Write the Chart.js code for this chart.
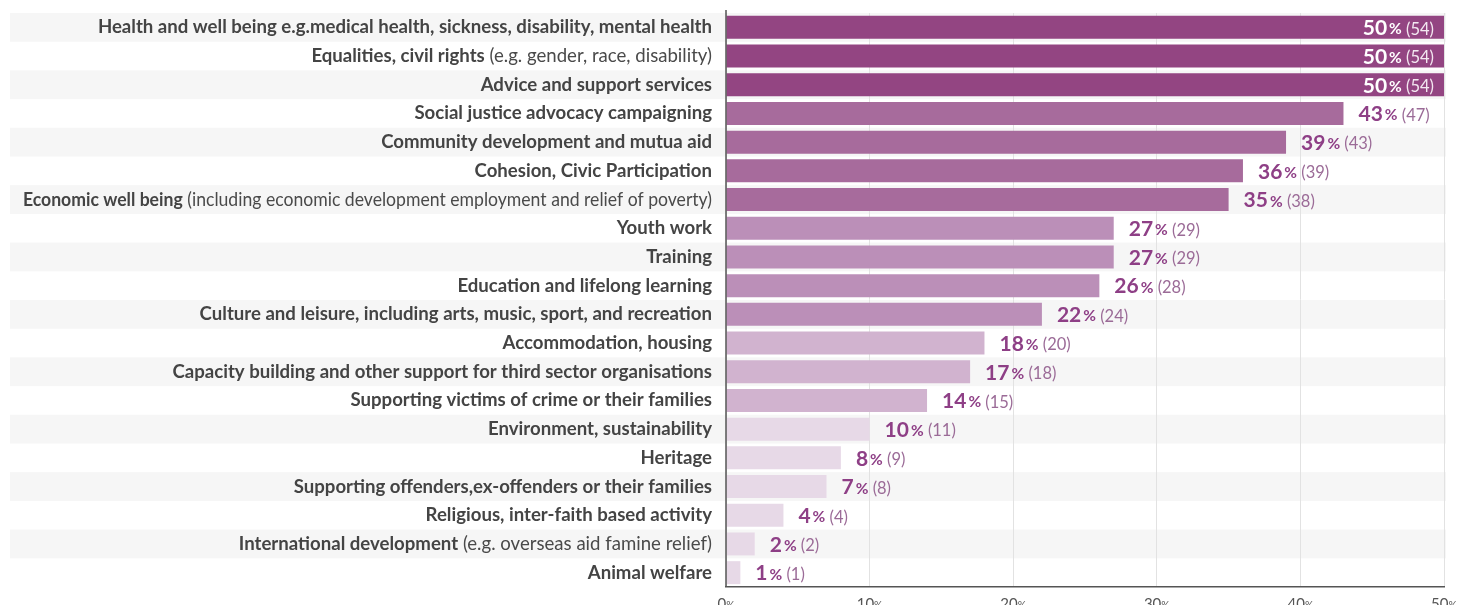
<!DOCTYPE html>
<html><head><meta charset="utf-8">
<script src="https://cdn.jsdelivr.net/npm/chart.js@4"></script>
<style>html,body{margin:0;padding:0;background:#fff;overflow:hidden}#wrap{width:1459px;height:605px;position:relative}</style>
</head><body><div id="wrap"><canvas id="c"></canvas></div>
<script>
const labelBold = [
  "Health and well being e.g.medical health, sickness, disability, mental health",
  "Equalities, civil rights",
  "Advice and support services",
  "Social justice advocacy campaigning",
  "Community development and mutua aid",
  "Cohesion, Civic Participation",
  "Economic well being",
  "Youth work",
  "Training",
  "Education and lifelong learning",
  "Culture and leisure, including arts, music, sport, and recreation",
  "Accommodation, housing",
  "Capacity building and other support for third sector organisations",
  "Supporting victims of crime or their families",
  "Environment, sustainability",
  "Heritage",
  "Supporting offenders,ex-offenders or their families",
  "Religious, inter-faith based activity",
  "International development",
  "Animal welfare"
];
const labelNormal = [
  "", " (e.g. gender, race, disability)", "", "", "", "",
  " (including economic development employment and relief of poverty)",
  "", "", "", "", "", "", "", "", "", "", "",
  " (e.g. overseas aid famine relief)", ""
];
const values = [50,50,50,43,39,36,35,27,27,26,22,18,17,14,10,8,7,4,2,1];
const counts = [54,54,54,47,43,39,38,29,29,28,24,20,18,15,11,9,8,4,2,1];
const xTicks = [0,10,20,30,40,50];

const FONT = "Lato";
function barColor(v){
  if (v >= 50) return "#934582";
  if (v >= 35) return "#a76b9c";
  if (v >= 22) return "#bb8fb8";
  if (v >= 14) return "#d1b3cf";
  return "#e7d9e7";
}

const customDraw = {
  id: "customDraw",
  beforeDraw(chart){
    const ctx = chart.ctx, y = chart.scales.y;
    const half = (y.getPixelForValue(1) - y.getPixelForValue(0)) / 2;
    ctx.save();
    ctx.fillStyle = "#f6f6f6";
    for (let i = 0; i < labelBold.length; i += 2){
      const c = y.getPixelForValue(i);
      ctx.fillRect(10, c - half, 1436, half * 2);
    }
    ctx.restore();
  },
  afterDraw(chart){
    const ctx = chart.ctx, x = chart.scales.x, y = chart.scales.y, area = chart.chartArea;
    ctx.save();
    ctx.strokeStyle = "#555";
    ctx.lineWidth = 1.5;
    ctx.beginPath();
    ctx.moveTo(area.left, 10);
    ctx.lineTo(area.left, area.bottom);
    ctx.stroke();
    // category labels
    ctx.textBaseline = "middle";
    const boldF = "bold 18.6px " + FONT, normF = "18.6px " + FONT;
    const maxW = 689;
    labelBold.forEach((b, i) => {
      const cy = y.getPixelForValue(i);
      const right = area.left - 14;
      ctx.font = boldF; const bw = ctx.measureText(b).width;
      ctx.font = normF; const nw = labelNormal[i] ? ctx.measureText(labelNormal[i]).width : 0;
      const total = bw + nw;
      const s = total > maxW ? maxW / total : 1;
      ctx.save();
      ctx.translate(right, cy);
      ctx.scale(s, 1);
      ctx.textAlign = "right";
      if (nw) { ctx.font = normF; ctx.fillStyle = "#4a4a4a"; ctx.fillText(labelNormal[i], 0, 0); }
      ctx.font = boldF; ctx.fillStyle = "#444";
      ctx.fillText(b, -nw, 0);
      ctx.restore();
    });
    // value labels
    ctx.textAlign = "left";
    values.forEach((v, i) => {
      const cy = y.getPixelForValue(i) + 1;
      const end = x.getPixelForValue(v);
      const numF = "bold 21px " + FONT, pctF = "bold 15.5px " + FONT, cntF = "16.5px " + FONT;
      const numS = String(v), pctS = "%", cntS = " (" + counts[i] + ")";
      ctx.font = numF; const w1 = ctx.measureText(numS).width;
      ctx.font = pctF; const w2 = ctx.measureText(pctS).width;
      ctx.font = cntF; const w3 = ctx.measureText(cntS).width;
      const w = w1 + 2 + w2 + w3;
      let sx, cMain, cCnt;
      if (end + 15 + w > area.right) { sx = end - 10 - w; cMain = "#ffffff"; cCnt = "#f3e8f1"; }
      else { sx = end + 15; cMain = "#8e3f86"; cCnt = "#9b6b97"; }
      ctx.fillStyle = cMain;
      ctx.font = numF; ctx.fillText(numS, sx, cy);
      ctx.font = pctF; ctx.fillText(pctS, sx + w1 + 2, cy + 1);
      ctx.fillStyle = cCnt;
      ctx.font = cntF; ctx.fillText(cntS, sx + w1 + 2 + w2, cy + 1);
    });
    // x tick labels
    ctx.textBaseline = "alphabetic";
    xTicks.forEach(t => {
      const px = x.getPixelForValue(t);
      ctx.font = "15px " + FONT; const a = ctx.measureText(String(t)).width;
      ctx.font = "10.5px " + FONT; const p = ctx.measureText("%").width;
      const sx = px - (a + p) / 2;
      ctx.fillStyle = "#555";
      ctx.font = "15px " + FONT; ctx.fillText(String(t), sx, area.bottom + 22);
      ctx.font = "10.5px " + FONT; ctx.fillText("%", sx + a, area.bottom + 22);
    });
    ctx.restore();
  }
};

new Chart(document.getElementById("c"), {
  type: "bar",
  data: {
    labels: labelBold,
    datasets: [{
      data: values,
      backgroundColor: values.map(barColor),
      borderWidth: 0,
      categoryPercentage: 1,
      barPercentage: 0.8
    }]
  },
  options: {
    indexAxis: "y",
    responsive: true,
    maintainAspectRatio: false,
    animation: false,
    layout: { padding: { left: 726, right: 15, top: 13, bottom: 18 } },
    plugins: { legend: { display: false }, tooltip: { enabled: false } },
    scales: {
      x: {
        min: 0, max: 50,
        ticks: { display: false, stepSize: 10 },
        grid: { color: "#e2e2e2", drawTicks: false },
        border: { color: "#555", width: 1.5 }
      },
      y: { display: false }
    }
  },
  plugins: [customDraw]
});
</script>
</body></html>
